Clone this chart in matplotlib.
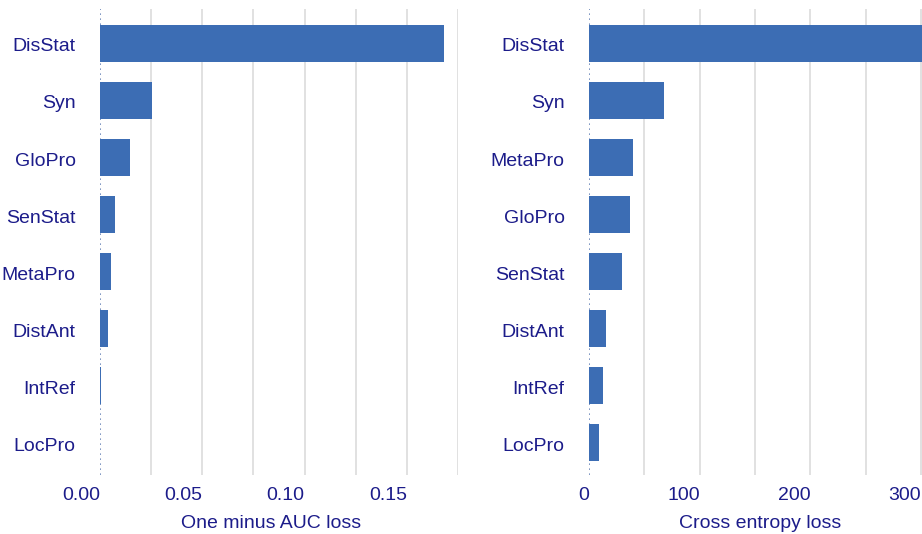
import numpy as np
import matplotlib
matplotlib.use('Agg')
import matplotlib.pyplot as plt

# left panel: one minus AUC loss
auc_names = ['DisStat', 'Syn', 'GloPro', 'SenStat', 'MetaPro', 'DistAnt', 'IntRef', 'LocPro']
auc_loss = [0.168, 0.0255, 0.0147, 0.0074, 0.0054, 0.004, 0.0005, 0.0]
auc_ticks = [0.0, 0.05, 0.10, 0.15]
auc_ticklabels = ['0.00', '0.05', '0.10', '0.15']

# right panel: cross entropy loss
ce_names = ['DisStat', 'Syn', 'MetaPro', 'GloPro', 'SenStat', 'DistAnt', 'IntRef', 'LocPro']
ce_loss = [330, 68, 40, 37, 30, 15.5, 12.5, 9]
ce_ticks = [0, 100, 200, 300]
ce_ticklabels = ['0', '100', '200', '300']

bar_color = '#3c6db4'
text_color = '#1c1c8a'
grid_color = '#dcdcdc'

plt.rcParams['font.family'] = ['Liberation Sans', 'DejaVu Sans']

W, H = 922, 534
fig = plt.figure(figsize=(W / 100, H / 100), dpi=100)
top = 1 - 9 / H
bottom = 1 - 475 / H

ax1 = fig.add_axes([100 / W, bottom, (458 - 100) / W, top - bottom])
ax2 = fig.add_axes([589 / W, bottom, (922 - 589) / W, top - bottom])


def draw(ax, names, vals, ticks, ticklabels, xmax, gstep, xlabel, lx):
    y = np.arange(len(names))
    ax.set_xlim(0, xmax)
    ax.set_ylim(len(names) - 0.43, -0.6)
    for g in np.arange(gstep, xmax + 1e-9, gstep):
        ax.axvline(g, color=grid_color, lw=1.2, zorder=0)
    ax.axvline(0, color='#6a85b8', lw=1.2, ls=(0, (1, 2)), zorder=1)
    ax.barh(y, vals, height=0.65, color=bar_color, zorder=2)
    ax.set_yticks(y + 0.03)
    ax.set_yticklabels(names, fontsize=14, color=text_color)
    ax.set_xticks(ticks)
    ax.set_xticklabels(ticklabels, fontsize=14, color=text_color, ha='right')
    ax.tick_params(length=0, axis='y', pad=17.5)
    ax.tick_params(length=0, axis='x', pad=9)
    ax.set_xlabel(xlabel, fontsize=14, color=text_color, labelpad=6)
    ax.xaxis.set_label_coords(lx, -0.085)
    for s in ax.spines.values():
        s.set_visible(False)


draw(ax1, auc_names, auc_loss, auc_ticks, auc_ticklabels, 0.175, 0.025, 'One minus AUC loss', 0.478)
draw(ax2, ce_names, ce_loss, ce_ticks, ce_ticklabels, 301, 50, 'Cross entropy loss', 0.515)

fig.savefig('out.png', dpi=100)
